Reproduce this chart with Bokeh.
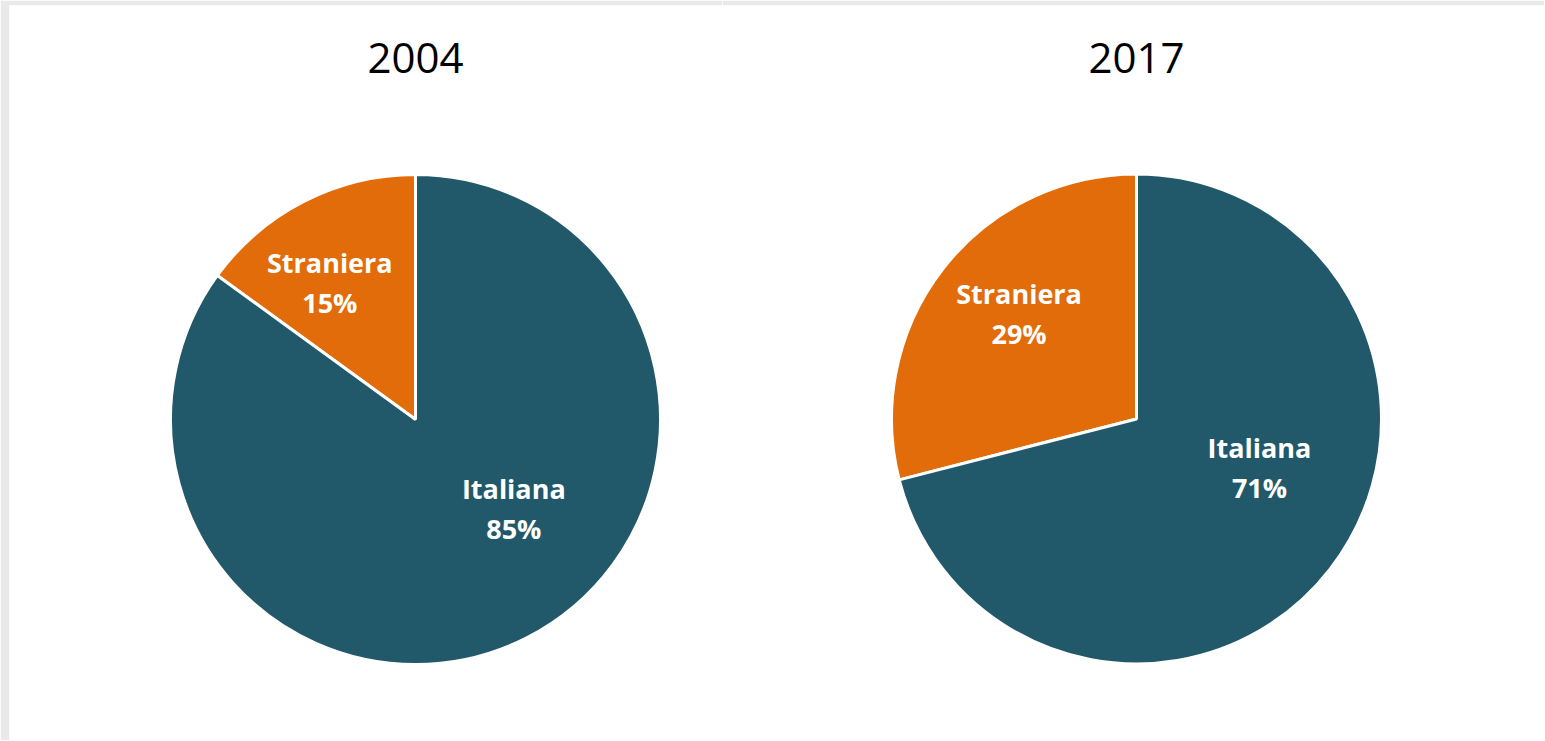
import math
from bokeh.plotting import figure
from bokeh.layouts import row
from bokeh.models import Range1d, ColumnDataSource
from bokeh.core.properties import value
from bokeh.embed import file_html
from bokeh.resources import INLINE

# ---- data ----
years = ["2004", "2017"]
categories = ["Straniera", "Italiana"]
shares_2004 = [15, 85]
shares_2017 = [29, 71]
colors = ["#E36C0A", "#22596A"]

# label placement (style): angle in degrees, fraction of radius
label_pos = {
    "2004": [(122, 0.66), (-42, 0.54)],
    "2017": [(138, 0.645), (-21.6, 0.54)],
}

R = 245
FONT = "Open Sans"
GRAY = "#E9E9E9"
H = 740


def make_pie(year, shares, width, cx_px, cy_px, left_border, top_border):
    p = figure(width=width, height=H, output_backend="svg",
               toolbar_location=None, min_border=0,
               min_border_left=left_border, min_border_top=top_border,
               x_range=Range1d(-(cx_px - left_border), width - cx_px),
               y_range=Range1d(-(H - cy_px), cy_px - top_border))
    p.axis.visible = False
    p.grid.visible = False
    p.outline_line_color = None
    p.background_fill_color = "white"
    p.border_fill_color = GRAY

    total = sum(shares)
    starts, ends = [], []
    a = math.pi / 2
    for s in shares:
        starts.append(a)
        a += s / total * 2 * math.pi
        ends.append(a)
    src = ColumnDataSource(dict(start=starts, end=ends, color=colors,
                                cat=categories, share=shares))
    p.wedge(x=0, y=0, radius=R, start_angle="start", end_angle="end",
            fill_color="color", line_color="white", line_width=3, source=src)

    # labels
    lx, ly, l1, l2 = [], [], [], []
    for (ang, fr), cat, s in zip(label_pos[year], categories, shares):
        r = math.radians(ang)
        lx.append(fr * R * math.cos(r))
        ly.append(fr * R * math.sin(r))
        l1.append(cat)
        l2.append(f"{s}%")
    p.text(x=lx, y=[y + 20 for y in ly], text=l1, text_color="white",
           text_font=value(FONT), text_font_style="bold",
           text_font_size="27px", text_align="center", text_baseline="middle")
    p.text(x=lx, y=[y - 20 for y in ly], text=l2, text_color="white",
           text_font=value(FONT), text_font_style="bold",
           text_font_size="27px", text_align="center", text_baseline="middle")

    # title
    p.text(x=[0], y=[cy_px - 57], text=[year], text_color="black",
           text_font=value(FONT), text_font_size="42px",
           text_align="center", text_baseline="middle")
    return p


p1 = make_pie(years[0], shares_2004, 722, 415, 419, 9, 5)
p2 = make_pie(years[1], shares_2017, 822, 1136 - 722, 418, 0, 4)
layout = row(p1, p2, spacing=0)

open("out.html", "w").write(file_html(layout, INLINE))
